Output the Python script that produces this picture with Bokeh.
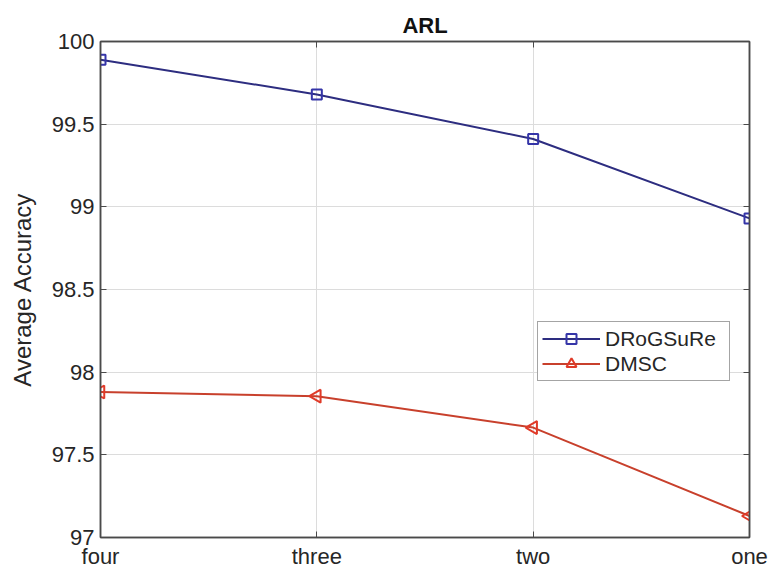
import math
from bokeh.plotting import figure
from bokeh.models import Range1d, FixedTicker, LinearAxis, Legend, LegendItem, ColumnDataSource
from bokeh.embed import file_html
from bokeh.resources import INLINE

# ---- data ----
categories = ["four", "three", "two", "one"]
drogsure = [99.89, 99.68, 99.41, 98.93]
dmsc = [97.88, 97.855, 97.665, 97.13]
y_ticks = [97, 97.5, 98, 98.5, 99, 99.5, 100]
y_tick_labels = ["97", "97.5", "98", "98.5", "99", "99.5", "100"]

xs = list(range(len(categories)))
FONT = "Liberation Sans"
AX = "#4a4a4a"
TXT = "#262626"

src = ColumnDataSource(dict(x=xs, a=drogsure, b=dmsc,
                            ang=[math.pi / 2] * len(xs)))

p = figure(width=769, height=575, output_backend="svg", toolbar_location=None,
           x_range=Range1d(0, len(categories) - 1), y_range=Range1d(97, 100),
           title="ARL", min_border_left=100, min_border_right=20,
           min_border_top=41, min_border_bottom=38)
p.background_fill_color = "white"
p.border_fill_color = "white"
p.outline_line_color = AX
p.outline_line_width = 1.5

p.title.align = "center"
p.title.text_font = FONT
p.title.text_font_size = "22px"
p.title.text_font_style = "bold"
p.title.text_color = "#111111"
p.title.standoff = 7

xticker = FixedTicker(ticks=xs)
yticker = FixedTicker(ticks=y_ticks)

for ax in p.xaxis:
    ax.ticker = xticker
    ax.major_label_overrides = {i: c for i, c in zip(xs, categories)}
for ax in p.yaxis:
    ax.ticker = yticker
    ax.major_label_overrides = {t: l for t, l in zip(y_ticks, y_tick_labels)}
    ax.axis_label = "Average Accuracy"
    ax.axis_label_text_font = FONT
    ax.axis_label_text_font_size = "24px"
    ax.axis_label_text_font_style = "normal"
    ax.axis_label_text_color = TXT
    ax.axis_label_standoff = 13

for ax in list(p.xaxis) + list(p.yaxis):
    ax.major_label_text_font = FONT
    ax.major_label_text_font_size = "22px"
    ax.major_label_text_color = TXT
    ax.major_label_standoff = 6
    ax.axis_line_color = AX
    ax.axis_line_width = 1.5
    ax.major_tick_line_color = AX
    ax.major_tick_in = 6
    ax.major_tick_out = 0
    ax.minor_tick_line_color = None

# right / top axes carrying only the mirrored inward ticks
for loc, tk, ticks in (("right", yticker, y_ticks), ("above", xticker, xs)):
    a = LinearAxis(ticker=tk, major_label_overrides={t: "" for t in ticks},
                   major_label_text_font_size="1px",
                   major_label_standoff=0, axis_line_color=AX, axis_line_width=1.5,
                   major_tick_line_color=AX, major_tick_in=6, major_tick_out=0,
                   minor_tick_line_color=None)
    p.add_layout(a, loc)

p.xgrid.ticker = xticker
p.ygrid.ticker = yticker
p.grid.grid_line_color = "#dcdcdc"
p.grid.grid_line_width = 1

blue_line = "#2d2d80"
blue_mark = "#3535a8"
red_line = "#c8402c"
red_mark = "#e03a28"

l1 = p.line("x", "a", source=src, line_color=blue_line, line_width=2)
m1 = p.scatter("x", "a", source=src, marker="square", size=10, fill_color=None,
               line_color=blue_mark, line_width=2)
l2 = p.line("x", "b", source=src, line_color=red_line, line_width=2)
m2 = p.scatter("x", "b", source=src, marker="triangle", angle="ang", size=13,
               fill_color=None, line_color=red_mark, line_width=2)

lg = Legend(items=[LegendItem(label="DRoGSuRe", renderers=[l1, m1], index=0),
                   LegendItem(label="DMSC", renderers=[l2, m2], index=0)])
lg.location = (437, 156)
lg.label_text_font = FONT
lg.label_text_font_size = "21px"
lg.label_text_color = TXT
lg.glyph_width = 58
lg.glyph_height = 25
lg.label_height = 25
lg.label_width = 120
lg.label_standoff = 5
lg.spacing = 0
lg.padding = 4
lg.margin = 0
lg.border_line_color = AX
lg.border_line_width = 1.5
lg.background_fill_color = "white"
lg.background_fill_alpha = 1
p.add_layout(lg, "center")

open("out.html", "w").write(file_html(p, INLINE))
